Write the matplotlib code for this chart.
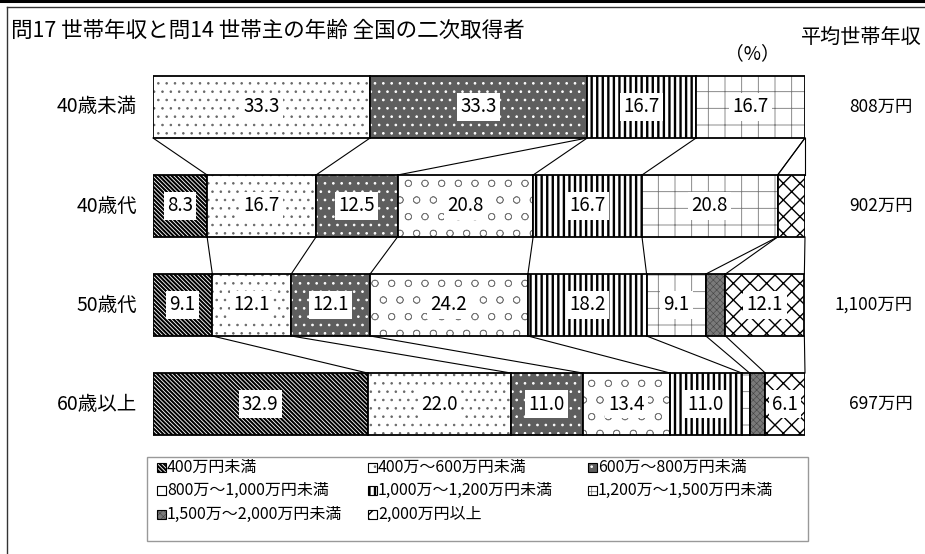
import matplotlib
matplotlib.use('Agg')
import matplotlib.pyplot as plt
from matplotlib.patches import Rectangle
from matplotlib.lines import Line2D

plt.rcParams['font.family'] = ['Noto Sans CJK JP', 'DejaVu Sans']
plt.rcParams['hatch.linewidth'] = 1.0

title = '問17 世帯年収と問14 世帯主の年齢 全国の二次取得者'
groups = ['40歳未満', '40歳代', '50歳代', '60歳以上']
categories = ['400万円未満', '400万～600万円未満', '600万～800万円未満',
              '800万～1,000万円未満', '1,000万～1,200万円未満', '1,200万～1,500万円未満',
              '1,500万～2,000万円未満', '2,000万円以上']
v_under40 = [0, 33.3, 33.3, 0, 16.7, 16.7, 0, 0]
v_40s = [8.3, 16.7, 12.5, 20.8, 16.7, 20.8, 0, 4.2]
v_50s = [9.1, 12.1, 12.1, 24.2, 18.2, 9.1, 3.0, 12.1]
v_60s = [32.9, 22.0, 11.0, 13.4, 11.0, 1.2, 2.4, 6.1]
avg_income = ['808万円', '902万円', '1,100万円', '697万円']
values = [v_under40, v_40s, v_50s, v_60s]

# (facecolor, hatchcolor, hatch, hatch linewidth)
styles = [
    ('white', 'black', '\\\\\\\\\\\\\\\\', 1.5),
    ('white', '#666666', '..', 0.6),
    ('#5e5e5e', 'white', '..', 0.7),
    ('white', '#777777', 'o', 0.5),
    ('white', 'black', '|||', 1.7),
    ('white', '#777777', '+', 0.6),
    ('#7a7a7a', '#444444', 'xxxxx', 0.4),
    ('white', 'black', 'xx', 1.0),
]

W, H = 925, 554
fig = plt.figure(figsize=(W / 100, H / 100), dpi=100)


def fx(px):
    return px / W


def fy(py):
    return 1 - py / H


# axes for the bars: rows centred at 107 + 99*i px
ax_left, ax_right = 153, 805
ax_top, ax_bot = 107 - 49.5, 107 + 3 * 99 + 49.5
ax = fig.add_axes([fx(ax_left), fy(ax_bot), (ax_right - ax_left) / W, (ax_bot - ax_top) / H])
ax.set_xlim(0, 100)
ax.set_ylim(3.5, -0.5)
ax.axis('off')

bh = 0.626


def set_hlw(patch, lw):
    if hasattr(patch, 'set_hatch_linewidth'):
        patch.set_hatch_linewidth(lw)


for i, vals in enumerate(values):
    left = 0.0
    for j, v in enumerate(vals):
        if v > 0:
            fc, hc, ht, hlw = styles[j]
            bars = ax.barh(i, v, left=left, height=bh, color=fc, edgecolor=hc,
                           hatch=ht, linewidth=0)
            for b in bars:
                set_hlw(b, hlw)
            ax.barh(i, v, left=left, height=bh, fill=False, edgecolor='black', linewidth=1.3)
            if v >= 5:
                ax.text(left + v / 2, i, f'{v:.1f}', ha='center', va='center', fontsize=13.5,
                        bbox=dict(boxstyle='square,pad=0.18', fc='white', ec='none'))
        left += v

# connector lines between consecutive bars
for i in range(len(values) - 1):
    c1 = 0.0
    c2 = 0.0
    for j in range(len(categories)):
        c1 += values[i][j]
        c2 += values[i + 1][j]
        ax.add_line(Line2D([min(c1, 100), min(c2, 100)], [i + bh / 2, i + 1 - bh / 2],
                           color='black', linewidth=0.8, clip_on=False))

# row labels and average income
for i, g in enumerate(groups):
    yc = 107 + 99 * i
    fig.text(fx(137), fy(yc), g, ha='right', va='center', fontsize=14)
    fig.text(fx(913), fy(yc), avg_income[i], ha='right', va='center', fontsize=12.5)

fig.text(fx(11), fy(31), title, ha='left', va='center', fontsize=15.5)
fig.text(fx(922), fy(37), '平均世帯年収', ha='right', va='center', fontsize=14.5)
fig.text(fx(752), fy(54), '（%）', ha='center', va='center', fontsize=13.5)

# figure frame lines
fig.add_artist(Line2D([0, 1], [fy(1), fy(1)], color='black', linewidth=2.2, transform=fig.transFigure))
fig.add_artist(Line2D([fx(7), 1], [fy(6.5), fy(6.5)], color='#333333', linewidth=1.0, transform=fig.transFigure))
fig.add_artist(Line2D([fx(7), fx(7)], [fy(6.5), 0], color='#333333', linewidth=1.0, transform=fig.transFigure))

# legend (row-major, 3 columns)
lx0, lx1, ly0, ly1 = 147, 808, 457, 541
fig.add_artist(Rectangle((fx(lx0), fy(ly1)), (lx1 - lx0) / W, (ly1 - ly0) / H,
                         transform=fig.transFigure, fill=False, edgecolor='#999999', linewidth=1.0))
col_x = [157, 368, 588]
row_y = [467, 490, 514]
ms = 9
for k, cat in enumerate(categories):
    r, c = divmod(k, 3)
    x = col_x[c]
    y = row_y[r]
    fc, hc, ht, hlw = styles[k]
    p = Rectangle((fx(x), fy(y + ms / 2)), ms / W, ms / H, transform=fig.transFigure,
                  facecolor=fc, edgecolor=hc, hatch=ht, linewidth=0)
    set_hlw(p, hlw)
    fig.add_artist(p)
    fig.add_artist(Rectangle((fx(x), fy(y + ms / 2)), ms / W, ms / H, transform=fig.transFigure,
                             fill=False, edgecolor='black', linewidth=0.8))
    fig.text(fx(x + ms + 1), fy(y), cat, ha='left', va='center', fontsize=11.5)

fig.savefig('out.png', dpi=100)
